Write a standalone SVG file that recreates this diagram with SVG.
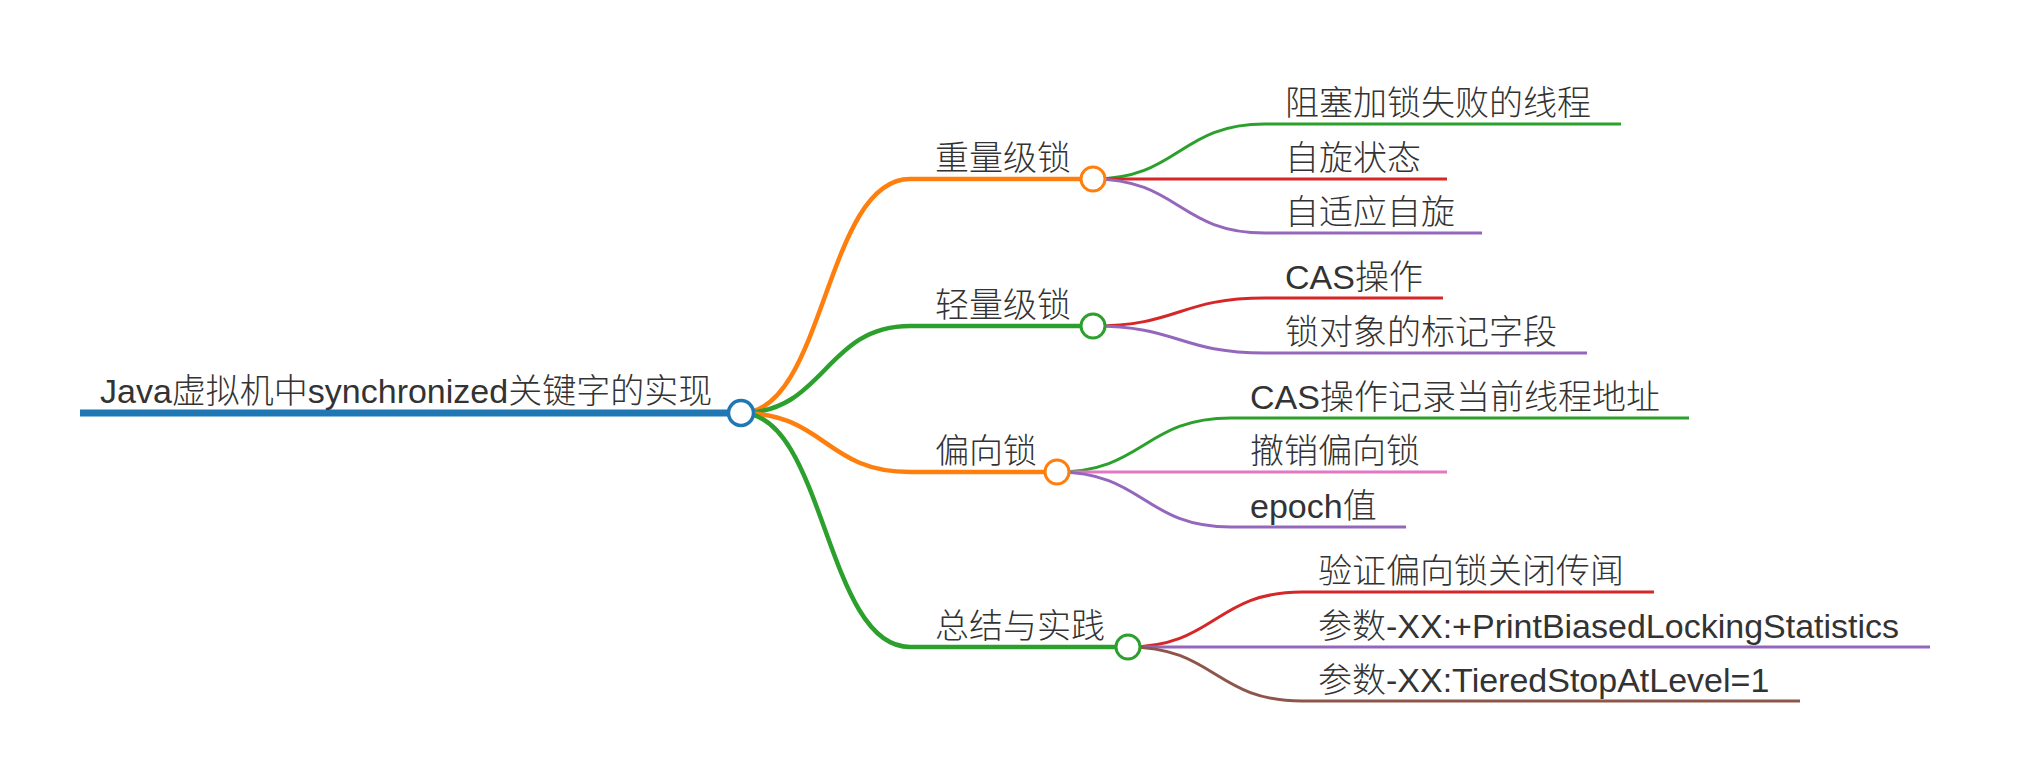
<svg xmlns="http://www.w3.org/2000/svg" width="2036" height="757" viewBox="0 0 2036 757">
<style>
text{font-family:"Liberation Sans","Noto Sans CJK SC",sans-serif;font-size:34px;font-weight:300;fill:#333}
.l0{stroke-width:7;fill:none}
.l1{stroke-width:4.5;fill:none}
.l2{stroke-width:3;fill:none}
.c{fill:#fff;stroke-width:3}
.blue{stroke:#1f77b4}.orange{stroke:#ff7f0e}.green{stroke:#2ca02c}.red{stroke:#d62728}.purple{stroke:#9467bd}.pink{stroke:#e377c2}.brown{stroke:#8c564b}
</style>
<rect width="2036" height="757" fill="#fff"/>
<g id="connectors">
<path class="l1 orange" d="M741,413 C825,413 825,179 910,179"/>
<path class="l1 green" d="M741,413 C825,413 825,326 910,326"/>
<path class="l1 orange" d="M741,413 C825,413 825,472 910,472"/>
<path class="l1 green" d="M741,413 C825,413 825,647 910,647"/>
<path class="l2 green" d="M1093,179 C1179,179 1179,124 1265,124"/>
<path class="l2 red" d="M1093,179 L1265,179"/>
<path class="l2 purple" d="M1093,179 C1179,179 1179,233 1265,233"/>
<path class="l2 red" d="M1093,326 C1179,326 1179,298 1265,298"/>
<path class="l2 purple" d="M1093,326 C1179,326 1179,353 1265,353"/>
<path class="l2 green" d="M1057,472 C1144,472 1144,418 1231,418"/>
<path class="l2 pink" d="M1057,472 L1231,472"/>
<path class="l2 purple" d="M1057,472 C1144,472 1144,527 1231,527"/>
<path class="l2 red" d="M1128,647 C1215,647 1215,592 1302,592"/>
<path class="l2 purple" d="M1128,647 L1302,647"/>
<path class="l2 brown" d="M1128,647 C1215,647 1215,701 1302,701"/>
</g>
<g id="n1-1"><path class="l2 green" d="M1265,124 H1621"/><text x="1285" y="115">阻塞加锁失败的线程</text></g>
<g id="n1-2"><path class="l2 red" d="M1265,179 H1447"/><text x="1285" y="170">自旋状态</text></g>
<g id="n1-3"><path class="l2 purple" d="M1265,233 H1482"/><text x="1285" y="224">自适应自旋</text></g>
<g id="n2-1"><path class="l2 red" d="M1265,298 H1443"/><text x="1285" y="289">CAS操作</text></g>
<g id="n2-2"><path class="l2 purple" d="M1265,353 H1587"/><text x="1285" y="344">锁对象的标记字段</text></g>
<g id="n3-1"><path class="l2 green" d="M1231,418 H1689"/><text x="1250" y="409">CAS操作记录当前线程地址</text></g>
<g id="n3-2"><path class="l2 pink" d="M1231,472 H1447"/><text x="1250" y="463">撤销偏向锁</text></g>
<g id="n3-3"><path class="l2 purple" d="M1231,527 H1406"/><text x="1250" y="518">epoch值</text></g>
<g id="n4-1"><path class="l2 red" d="M1302,592 H1654"/><text x="1318" y="583">验证偏向锁关闭传闻</text></g>
<g id="n4-2"><path class="l2 purple" d="M1302,647 H1930"/><text x="1318" y="638">参数-XX:+PrintBiasedLockingStatistics</text></g>
<g id="n4-3"><path class="l2 brown" d="M1302,701 H1800"/><text x="1318" y="692">参数-XX:TieredStopAtLevel=1</text></g>
<g id="n1"><path class="l1 orange" d="M910,179 H1093"/><circle class="c orange" cx="1093" cy="179" r="12"/><text x="935" y="170">重量级锁</text></g>
<g id="n2"><path class="l1 green" d="M910,326 H1093"/><circle class="c green" cx="1093" cy="326" r="12"/><text x="935" y="317">轻量级锁</text></g>
<g id="n3"><path class="l1 orange" d="M910,472 H1057"/><circle class="c orange" cx="1057" cy="472" r="12"/><text x="935" y="463">偏向锁</text></g>
<g id="n4"><path class="l1 green" d="M910,647 H1128"/><circle class="c green" cx="1128" cy="647" r="12"/><text x="935" y="638">总结与实践</text></g>
<g id="root"><path class="l0 blue" d="M80,413 H741"/><circle class="c blue" cx="741" cy="413" r="12.5" style="stroke-width:3.5"/><text x="100" y="403">Java虚拟机中synchronized关键字的实现</text></g>
</svg>
